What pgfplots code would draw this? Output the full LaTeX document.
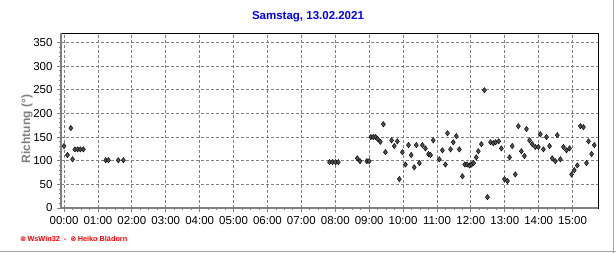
\documentclass[border=0pt]{standalone}
\usepackage{fontspec}
\setmainfont{Liberation Sans}
\newfontfamily\symfont{DejaVu Sans}
\usepackage{pgfplots}
\pgfplotsset{compat=1.18}
\usepackage{pgfplotstable}
\definecolor{titleblue}{RGB}{0,0,255}
\definecolor{labgray}{RGB}{128,128,128}
\definecolor{gridgray}{RGB}{128,128,128}
\definecolor{markgray}{RGB}{80,80,80}
\pgfplotstableread{
h v
0.00 131
0.10 112
0.20 169
0.25 103
0.32 124
0.40 124
0.48 124
0.57 124
1.23 101
1.31 101
1.60 101
1.75 101
7.83 97
7.92 97
8.01 97
8.09 97
8.65 105
8.73 99
8.93 99
9.00 99
9.05 150
9.12 150
9.19 150
9.25 146
9.33 140
9.42 177
9.48 118
9.66 143
9.74 131
9.83 141
9.89 61
9.98 118
10.07 92
10.16 133
10.24 112
10.33 86
10.39 133
10.48 95
10.57 133
10.66 126
10.75 114
10.81 112
10.89 143
11.07 103
11.16 122
11.25 92
11.31 158
11.40 124
11.48 139
11.57 152
11.66 124
11.75 67
11.82 92
11.89 92
11.96 90
12.02 92
12.08 95
12.16 107
12.22 120
12.31 135
12.40 249
12.49 23
12.58 139
12.66 137
12.73 139
12.82 141
12.90 126
12.99 61
13.08 57
13.14 107
13.22 131
13.31 71
13.40 173
13.49 120
13.58 110
13.64 167
13.73 143
13.81 135
13.90 129
13.99 129
14.05 156
14.14 124
14.23 150
14.32 131
14.40 105
14.49 99
14.55 154
14.64 103
14.73 129
14.82 122
14.91 126
14.97 71
15.05 80
15.14 90
15.23 173
15.32 171
15.41 95
15.47 141
15.56 114
15.64 133
}\datatable
\begin{document}
\begin{tikzpicture}
\useasboundingbox (0,0) rectangle (616bp,253bp);
\fill[white] (0,0) rectangle (616bp,253bp);
\begin{axis}[
  at={(61bp,45bp)}, anchor=south west,
  scale only axis, width=537bp, height=175bp,
  xmin=-0.09, xmax=15.75, ymin=0, ymax=370,
  xtick={0,...,15},
  xticklabels={00:00,01:00,02:00,03:00,04:00,05:00,06:00,07:00,08:00,09:00,10:00,11:00,12:00,13:00,14:00,15:00},
  ytick={0,50,...,350},
  minor x tick num=3,
  minor y tick num=4,
  xtick pos=left, ytick pos=left,
  tick align=outside,
  major tick length=4bp, minor tick length=2.5bp,
  every tick/.style={gridgray, line width=0.8bp},
  grid=major,
  major grid style={gridgray, line width=0.8bp, dash pattern=on 3bp off 2bp},
  axis line style={black, line width=0.8bp},
  tick label style={font=\fontsize{11.5bp}{12bp}\selectfont, black},
  /pgf/number format/assume math mode=true,
  xticklabel style={yshift=-1bp},
  yticklabel style={xshift=-1bp},
  clip=false,
]
\addplot[only marks, mark=diamond*, mark size=2.7bp,
  mark options={fill=markgray, draw=black, line width=0.4bp}] table[x=h, y=v] {\datatable};
\draw[labgray, line width=2.5bp] (rel axis cs:0,0) -- (rel axis cs:0,1);
\draw[labgray, line width=2.5bp] (rel axis cs:0,0) -- (rel axis cs:1,0);
\end{axis}
\node[font=\fontsize{11.5bp}{13bp}\selectfont\bfseries, text=titleblue] at (308bp,236bp) {Samstag, 13.02.2021};
\node[font=\fontsize{12bp}{13bp}\selectfont\bfseries, text=labgray, rotate=90] at (27bp,124bp) {Richtung (°)};
\node[anchor=west, font=\fontsize{7.3bp}{8bp}\selectfont\bfseries, text=red, inner sep=0pt] at (20bp,14bp) {{\symfont ⊗}\,WsWin32 \ - \ {\symfont ⊗}\,Heiko Blädorn};
\draw[gray!70, line width=1.5bp] (613.5bp,0) -- (613.5bp,253bp);
\draw[gray!70, line width=1.5bp] (0,1.5bp) -- (616bp,1.5bp);
\end{tikzpicture}
\end{document}
